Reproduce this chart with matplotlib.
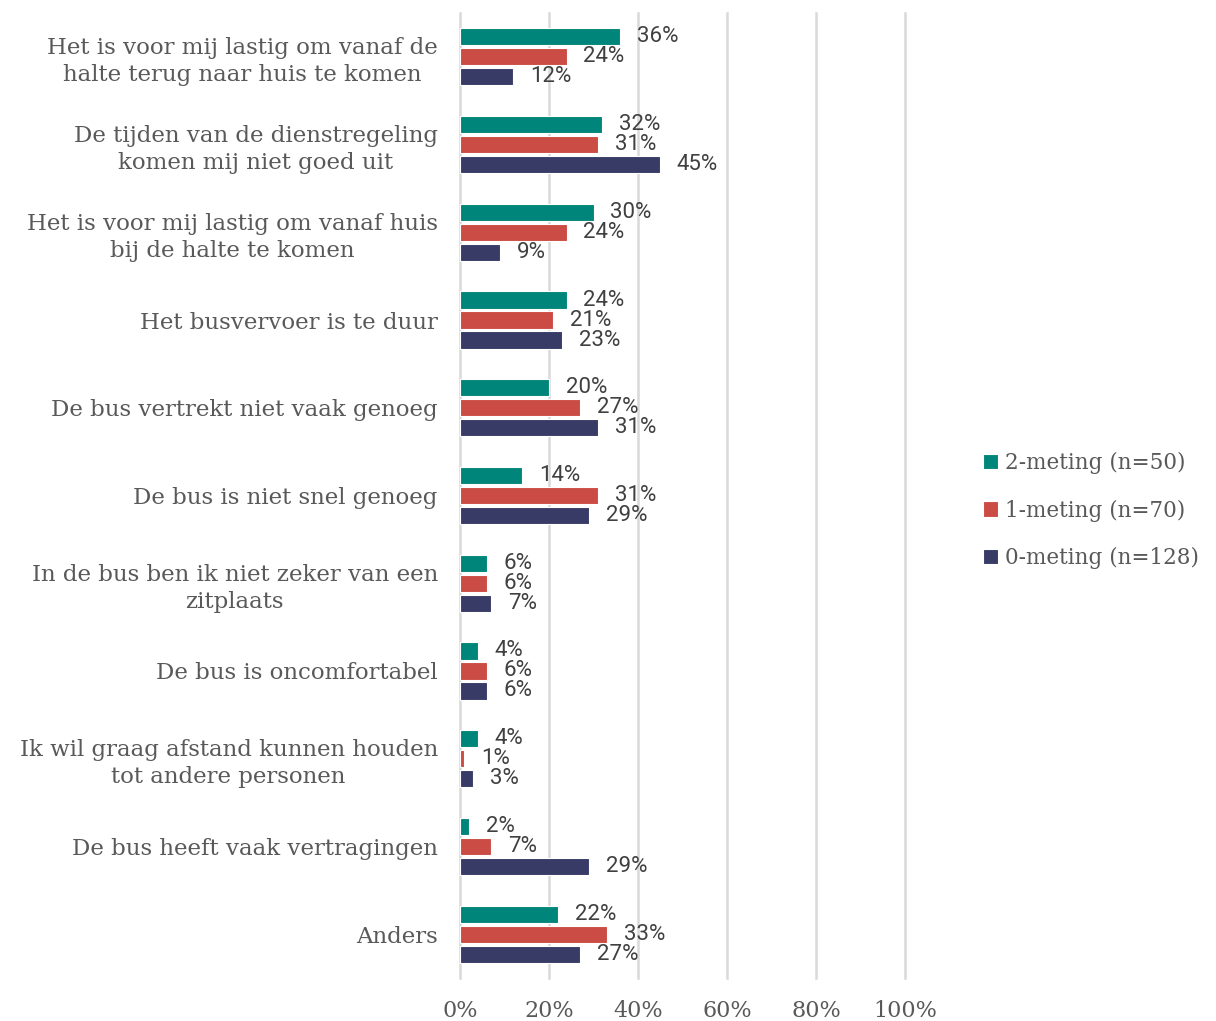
import matplotlib
matplotlib.use("Agg")
import matplotlib.pyplot as plt
import numpy as np

categories = [
    "Het is voor mij lastig om vanaf de\nhalte terug naar huis te komen",
    "De tijden van de dienstregeling\nkomen mij niet goed uit",
    "Het is voor mij lastig om vanaf huis\nbij de halte te komen",
    "Het busvervoer is te duur",
    "De bus vertrekt niet vaak genoeg",
    "De bus is niet snel genoeg",
    "In de bus ben ik niet zeker van een\nzitplaats",
    "De bus is oncomfortabel",
    "Ik wil graag afstand kunnen houden\ntot andere personen",
    "De bus heeft vaak vertragingen",
    "Anders",
]
meting2 = [36, 32, 30, 24, 20, 14, 6, 4, 4, 2, 22]
meting1 = [24, 31, 24, 21, 27, 31, 6, 6, 1, 7, 33]
meting0 = [12, 45, 9, 23, 31, 29, 7, 6, 3, 29, 27]
series_names = ["2-meting (n=50)", "1-meting (n=70)", "0-meting (n=128)"]
colors = ["#00857A", "#CB4C44", "#373B66"]
xticks = [0, 20, 40, 60, 80, 100]

serif = ["DejaVu Serif"]
sans = ["Roboto", "DejaVu Sans"]

fig = plt.figure(figsize=(12.16, 10.21), dpi=100)
ax = fig.add_axes([460 / 1216, 1 - 978 / 1021, (905 - 460) / 1216, (978 - 13) / 1021])

y = np.arange(len(categories))
bar_h = 0.195
step = 0.228
for i, (vals, col, name) in enumerate(zip([meting2, meting1, meting0], colors, series_names)):
    pos = y + (i - 1) * step
    ax.barh(pos, vals, height=bar_h, color=col, edgecolor="white", linewidth=0.8, label=name, zorder=3)
    for p, v in zip(pos, vals):
        ax.annotate(f"{v}%", xy=(v, p), xytext=(12, 0), textcoords="offset points",
                    ha="left", va="center", fontsize=16, color="#404040", family=sans)

ax.set_ylim(len(categories) - 0.5, -0.5)
ax.set_xlim(0, 100)
ax.set_xticks(xticks)
ax.set_xticklabels([f"{t}%" for t in xticks], family=serif, fontsize=16, color="#595959")
ax.set_yticks(y)
ax.set_yticklabels(categories, family=serif, fontsize=16.5, color="#595959",
                   multialignment="center", linespacing=1.3)
ax.tick_params(axis="both", length=0)
ax.tick_params(axis="y", pad=16)
ax.tick_params(axis="x", pad=16)
ax.grid(axis="x", color="#D9D9D9", linewidth=1.8, zorder=0)
for gl in ax.xaxis.get_gridlines():
    gl.set_clip_on(False)
for s in ax.spines.values():
    s.set_visible(False)

leg = ax.legend(loc="center left", bbox_to_anchor=(968 / 1216, 0.5), bbox_transform=fig.transFigure,
                frameon=False, prop={"family": serif, "size": 15.5}, handlelength=0.7, handleheight=0.7,
                handletextpad=0.3, labelspacing=1.2, labelcolor="#595959", borderpad=0.2)

fig.savefig("out.png", dpi=100)
